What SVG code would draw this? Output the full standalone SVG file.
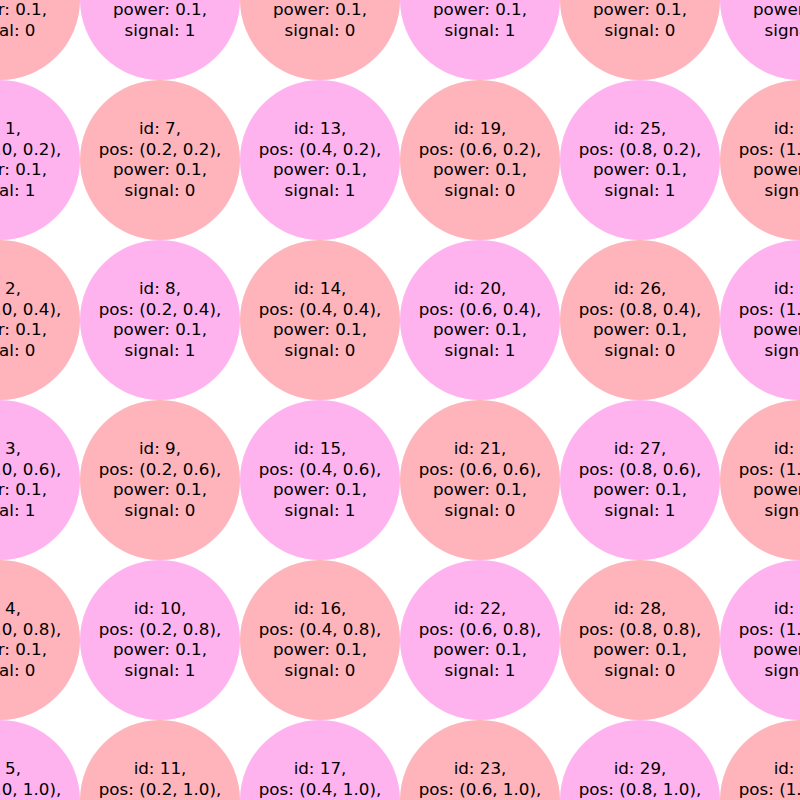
<svg xmlns="http://www.w3.org/2000/svg" width="800" height="800" viewBox="0 0 800 800">
<style>
.s0{fill:#ffb3ba}
.s1{fill:#ffb3ee}
text{font-family:"DejaVu Sans",sans-serif;font-size:16.7px;fill:#000;text-anchor:middle}
</style>
<rect width="800" height="800" fill="#fff"/>
<g id="connectors"/>
<g id="n0"><circle class="s0" cx="0" cy="0" r="80"/><text><tspan x="0" y="-26">id: 0,</tspan><tspan x="0" y="-5.5">pos: (0.0, 0.0),</tspan><tspan x="0" y="15">power: 0.1,</tspan><tspan x="0" y="35.5">signal: 0</tspan></text></g>
<g id="n1"><circle class="s1" cx="0" cy="160" r="80"/><text><tspan x="0" y="134">id: 1,</tspan><tspan x="0" y="154.5">pos: (0.0, 0.2),</tspan><tspan x="0" y="175">power: 0.1,</tspan><tspan x="0" y="195.5">signal: 1</tspan></text></g>
<g id="n2"><circle class="s0" cx="0" cy="320" r="80"/><text><tspan x="0" y="294">id: 2,</tspan><tspan x="0" y="314.5">pos: (0.0, 0.4),</tspan><tspan x="0" y="335">power: 0.1,</tspan><tspan x="0" y="355.5">signal: 0</tspan></text></g>
<g id="n3"><circle class="s1" cx="0" cy="480" r="80"/><text><tspan x="0" y="454">id: 3,</tspan><tspan x="0" y="474.5">pos: (0.0, 0.6),</tspan><tspan x="0" y="495">power: 0.1,</tspan><tspan x="0" y="515.5">signal: 1</tspan></text></g>
<g id="n4"><circle class="s0" cx="0" cy="640" r="80"/><text><tspan x="0" y="614">id: 4,</tspan><tspan x="0" y="634.5">pos: (0.0, 0.8),</tspan><tspan x="0" y="655">power: 0.1,</tspan><tspan x="0" y="675.5">signal: 0</tspan></text></g>
<g id="n5"><circle class="s1" cx="0" cy="800" r="80"/><text><tspan x="0" y="774">id: 5,</tspan><tspan x="0" y="794.5">pos: (0.0, 1.0),</tspan><tspan x="0" y="815">power: 0.1,</tspan><tspan x="0" y="835.5">signal: 1</tspan></text></g>
<g id="n6"><circle class="s1" cx="160" cy="0" r="80"/><text><tspan x="160" y="-26">id: 6,</tspan><tspan x="160" y="-5.5">pos: (0.2, 0.0),</tspan><tspan x="160" y="15">power: 0.1,</tspan><tspan x="160" y="35.5">signal: 1</tspan></text></g>
<g id="n7"><circle class="s0" cx="160" cy="160" r="80"/><text><tspan x="160" y="134">id: 7,</tspan><tspan x="160" y="154.5">pos: (0.2, 0.2),</tspan><tspan x="160" y="175">power: 0.1,</tspan><tspan x="160" y="195.5">signal: 0</tspan></text></g>
<g id="n8"><circle class="s1" cx="160" cy="320" r="80"/><text><tspan x="160" y="294">id: 8,</tspan><tspan x="160" y="314.5">pos: (0.2, 0.4),</tspan><tspan x="160" y="335">power: 0.1,</tspan><tspan x="160" y="355.5">signal: 1</tspan></text></g>
<g id="n9"><circle class="s0" cx="160" cy="480" r="80"/><text><tspan x="160" y="454">id: 9,</tspan><tspan x="160" y="474.5">pos: (0.2, 0.6),</tspan><tspan x="160" y="495">power: 0.1,</tspan><tspan x="160" y="515.5">signal: 0</tspan></text></g>
<g id="n10"><circle class="s1" cx="160" cy="640" r="80"/><text><tspan x="160" y="614">id: 10,</tspan><tspan x="160" y="634.5">pos: (0.2, 0.8),</tspan><tspan x="160" y="655">power: 0.1,</tspan><tspan x="160" y="675.5">signal: 1</tspan></text></g>
<g id="n11"><circle class="s0" cx="160" cy="800" r="80"/><text><tspan x="160" y="774">id: 11,</tspan><tspan x="160" y="794.5">pos: (0.2, 1.0),</tspan><tspan x="160" y="815">power: 0.1,</tspan><tspan x="160" y="835.5">signal: 0</tspan></text></g>
<g id="n12"><circle class="s0" cx="320" cy="0" r="80"/><text><tspan x="320" y="-26">id: 12,</tspan><tspan x="320" y="-5.5">pos: (0.4, 0.0),</tspan><tspan x="320" y="15">power: 0.1,</tspan><tspan x="320" y="35.5">signal: 0</tspan></text></g>
<g id="n13"><circle class="s1" cx="320" cy="160" r="80"/><text><tspan x="320" y="134">id: 13,</tspan><tspan x="320" y="154.5">pos: (0.4, 0.2),</tspan><tspan x="320" y="175">power: 0.1,</tspan><tspan x="320" y="195.5">signal: 1</tspan></text></g>
<g id="n14"><circle class="s0" cx="320" cy="320" r="80"/><text><tspan x="320" y="294">id: 14,</tspan><tspan x="320" y="314.5">pos: (0.4, 0.4),</tspan><tspan x="320" y="335">power: 0.1,</tspan><tspan x="320" y="355.5">signal: 0</tspan></text></g>
<g id="n15"><circle class="s1" cx="320" cy="480" r="80"/><text><tspan x="320" y="454">id: 15,</tspan><tspan x="320" y="474.5">pos: (0.4, 0.6),</tspan><tspan x="320" y="495">power: 0.1,</tspan><tspan x="320" y="515.5">signal: 1</tspan></text></g>
<g id="n16"><circle class="s0" cx="320" cy="640" r="80"/><text><tspan x="320" y="614">id: 16,</tspan><tspan x="320" y="634.5">pos: (0.4, 0.8),</tspan><tspan x="320" y="655">power: 0.1,</tspan><tspan x="320" y="675.5">signal: 0</tspan></text></g>
<g id="n17"><circle class="s1" cx="320" cy="800" r="80"/><text><tspan x="320" y="774">id: 17,</tspan><tspan x="320" y="794.5">pos: (0.4, 1.0),</tspan><tspan x="320" y="815">power: 0.1,</tspan><tspan x="320" y="835.5">signal: 1</tspan></text></g>
<g id="n18"><circle class="s1" cx="480" cy="0" r="80"/><text><tspan x="480" y="-26">id: 18,</tspan><tspan x="480" y="-5.5">pos: (0.6, 0.0),</tspan><tspan x="480" y="15">power: 0.1,</tspan><tspan x="480" y="35.5">signal: 1</tspan></text></g>
<g id="n19"><circle class="s0" cx="480" cy="160" r="80"/><text><tspan x="480" y="134">id: 19,</tspan><tspan x="480" y="154.5">pos: (0.6, 0.2),</tspan><tspan x="480" y="175">power: 0.1,</tspan><tspan x="480" y="195.5">signal: 0</tspan></text></g>
<g id="n20"><circle class="s1" cx="480" cy="320" r="80"/><text><tspan x="480" y="294">id: 20,</tspan><tspan x="480" y="314.5">pos: (0.6, 0.4),</tspan><tspan x="480" y="335">power: 0.1,</tspan><tspan x="480" y="355.5">signal: 1</tspan></text></g>
<g id="n21"><circle class="s0" cx="480" cy="480" r="80"/><text><tspan x="480" y="454">id: 21,</tspan><tspan x="480" y="474.5">pos: (0.6, 0.6),</tspan><tspan x="480" y="495">power: 0.1,</tspan><tspan x="480" y="515.5">signal: 0</tspan></text></g>
<g id="n22"><circle class="s1" cx="480" cy="640" r="80"/><text><tspan x="480" y="614">id: 22,</tspan><tspan x="480" y="634.5">pos: (0.6, 0.8),</tspan><tspan x="480" y="655">power: 0.1,</tspan><tspan x="480" y="675.5">signal: 1</tspan></text></g>
<g id="n23"><circle class="s0" cx="480" cy="800" r="80"/><text><tspan x="480" y="774">id: 23,</tspan><tspan x="480" y="794.5">pos: (0.6, 1.0),</tspan><tspan x="480" y="815">power: 0.1,</tspan><tspan x="480" y="835.5">signal: 0</tspan></text></g>
<g id="n24"><circle class="s0" cx="640" cy="0" r="80"/><text><tspan x="640" y="-26">id: 24,</tspan><tspan x="640" y="-5.5">pos: (0.8, 0.0),</tspan><tspan x="640" y="15">power: 0.1,</tspan><tspan x="640" y="35.5">signal: 0</tspan></text></g>
<g id="n25"><circle class="s1" cx="640" cy="160" r="80"/><text><tspan x="640" y="134">id: 25,</tspan><tspan x="640" y="154.5">pos: (0.8, 0.2),</tspan><tspan x="640" y="175">power: 0.1,</tspan><tspan x="640" y="195.5">signal: 1</tspan></text></g>
<g id="n26"><circle class="s0" cx="640" cy="320" r="80"/><text><tspan x="640" y="294">id: 26,</tspan><tspan x="640" y="314.5">pos: (0.8, 0.4),</tspan><tspan x="640" y="335">power: 0.1,</tspan><tspan x="640" y="355.5">signal: 0</tspan></text></g>
<g id="n27"><circle class="s1" cx="640" cy="480" r="80"/><text><tspan x="640" y="454">id: 27,</tspan><tspan x="640" y="474.5">pos: (0.8, 0.6),</tspan><tspan x="640" y="495">power: 0.1,</tspan><tspan x="640" y="515.5">signal: 1</tspan></text></g>
<g id="n28"><circle class="s0" cx="640" cy="640" r="80"/><text><tspan x="640" y="614">id: 28,</tspan><tspan x="640" y="634.5">pos: (0.8, 0.8),</tspan><tspan x="640" y="655">power: 0.1,</tspan><tspan x="640" y="675.5">signal: 0</tspan></text></g>
<g id="n29"><circle class="s1" cx="640" cy="800" r="80"/><text><tspan x="640" y="774">id: 29,</tspan><tspan x="640" y="794.5">pos: (0.8, 1.0),</tspan><tspan x="640" y="815">power: 0.1,</tspan><tspan x="640" y="835.5">signal: 1</tspan></text></g>
<g id="n30"><circle class="s1" cx="800" cy="0" r="80"/><text><tspan x="800" y="-26">id: 30,</tspan><tspan x="800" y="-5.5">pos: (1.0, 0.0),</tspan><tspan x="800" y="15">power: 0.1,</tspan><tspan x="800" y="35.5">signal: 1</tspan></text></g>
<g id="n31"><circle class="s0" cx="800" cy="160" r="80"/><text><tspan x="800" y="134">id: 31,</tspan><tspan x="800" y="154.5">pos: (1.0, 0.2),</tspan><tspan x="800" y="175">power: 0.1,</tspan><tspan x="800" y="195.5">signal: 0</tspan></text></g>
<g id="n32"><circle class="s1" cx="800" cy="320" r="80"/><text><tspan x="800" y="294">id: 32,</tspan><tspan x="800" y="314.5">pos: (1.0, 0.4),</tspan><tspan x="800" y="335">power: 0.1,</tspan><tspan x="800" y="355.5">signal: 1</tspan></text></g>
<g id="n33"><circle class="s0" cx="800" cy="480" r="80"/><text><tspan x="800" y="454">id: 33,</tspan><tspan x="800" y="474.5">pos: (1.0, 0.6),</tspan><tspan x="800" y="495">power: 0.1,</tspan><tspan x="800" y="515.5">signal: 0</tspan></text></g>
<g id="n34"><circle class="s1" cx="800" cy="640" r="80"/><text><tspan x="800" y="614">id: 34,</tspan><tspan x="800" y="634.5">pos: (1.0, 0.8),</tspan><tspan x="800" y="655">power: 0.1,</tspan><tspan x="800" y="675.5">signal: 1</tspan></text></g>
<g id="n35"><circle class="s0" cx="800" cy="800" r="80"/><text><tspan x="800" y="774">id: 35,</tspan><tspan x="800" y="794.5">pos: (1.0, 1.0),</tspan><tspan x="800" y="815">power: 0.1,</tspan><tspan x="800" y="835.5">signal: 0</tspan></text></g>
</svg>
